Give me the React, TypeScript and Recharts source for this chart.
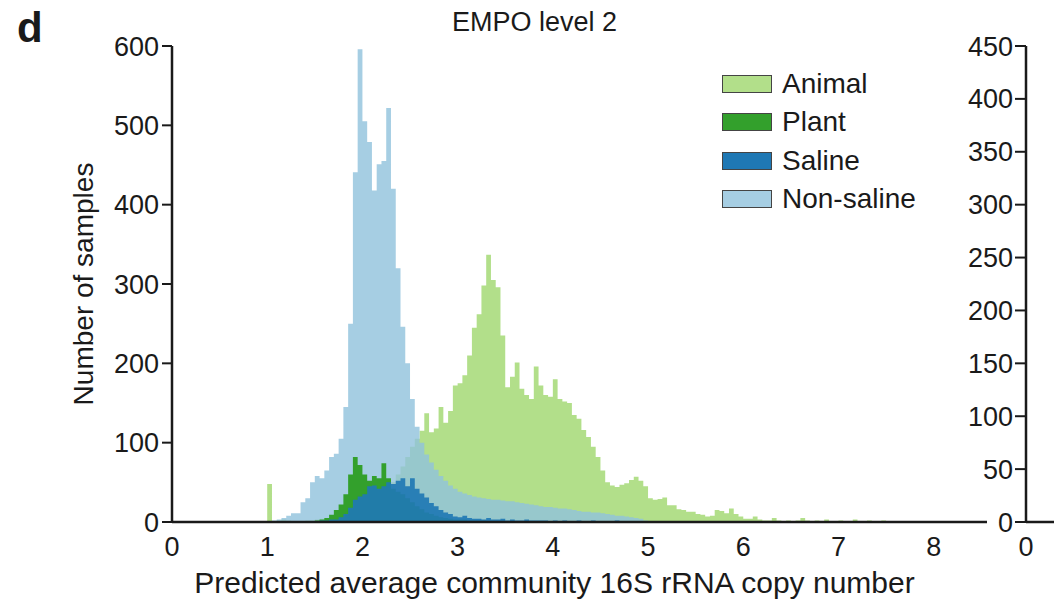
import { ComposedChart, Area, XAxis, YAxis, Legend } from 'recharts'

// histogram bins: 0.05 wide, first bin starts at 1.00
const BIN_START = 1.0
const BIN_WIDTH = 0.05

const animal = [
  48, 0, 2, 3, 2, 0, 1, 1, 2, 2,
  3, 4, 5, 6, 8, 10, 12, 15, 18, 20,
  22, 25, 28, 32, 36, 42, 50, 60, 70, 82,
  95, 105, 115, 137, 113, 118, 145, 125, 140, 172,
  175, 185, 210, 245, 262, 298, 337, 305, 296, 235,
  170, 183, 201, 168, 160, 155, 196, 172, 160, 158,
  180, 155, 152, 150, 135, 130, 116, 107, 95, 82,
  65, 50, 46, 44, 47, 49, 53, 57, 52, 45,
  30, 28, 29, 31, 21, 21, 16, 15, 13, 13,
  10, 9, 7, 8, 15, 14, 11, 17, 10, 7,
  4, 4, 7, 3, 2, 2, 5, 2, 1, 2,
  1, 2, 5, 2, 1, 2, 1, 3, 1, 1,
  2, 1, 1, 3, 1, 1, 2, 1, 0, 2,
  0,
]

const plant = [
  0, 0, 0, 0, 0, 0, 0, 0, 0, 1,
  2, 3, 5, 9, 15, 22, 35, 60, 82, 72,
  60, 52, 58, 55, 74, 55, 42, 38, 35, 30,
  25, 20, 16, 12, 10, 8, 6, 5, 4, 3,
  3, 3, 2, 2, 2, 2, 1, 1, 1, 1,
  1, 1, 0,
]

const saline = [
  0, 0, 0, 0, 0, 0, 0, 0, 1, 1,
  1, 2, 2, 3, 3, 6, 10, 18, 28, 32,
  35, 45, 46, 42, 45, 50, 48, 52, 55, 45,
  55, 42, 36, 31, 24, 20, 15, 12, 10, 7,
  6, 8, 5, 4, 4, 3, 5, 3, 3, 4,
  2, 3, 2, 2, 3, 2, 2, 2, 2, 1,
  2, 1, 2, 1, 1, 2, 1, 1, 2, 1,
  1, 1, 1, 2, 1, 1, 1, 0, 1, 1,
  1, 0, 1, 0, 0, 1, 0,
]

const nonSaline = [
  0, 2, 3, 5, 8, 11, 11, 25, 30, 50,
  58, 55, 65, 82, 86, 105, 145, 250, 441, 596,
  505, 479, 418, 451, 455, 522, 420, 320, 246, 200,
  155, 120, 100, 85, 75, 66, 58, 52, 46, 42,
  38, 36, 34, 32, 31, 30, 29, 28, 28, 27,
  26, 26, 25, 24, 23, 22, 21, 20, 19, 19,
  18, 17, 17, 16, 15, 14, 13, 13, 12, 12,
  11, 10, 9, 8, 8, 7, 6, 5, 4, 2,
  0,
]

const xTicks = [0, 1, 2, 3, 4, 5, 6, 7, 8]
const yTicks = [0, 100, 200, 300, 400, 500, 600]
// next panel (cut off at the right edge of the figure)
const nextXTicks = [0]
const nextYTicks = [0, 50, 100, 150, 200, 250, 300, 350, 400, 450]

// drawing order (back to front)
const series = [
  { key: 'animal', name: 'Animal', values: animal, color: '#b2df8a', swatch: '#b2df8a', opacity: 1 },
  { key: 'nonSaline', name: 'Non-saline', values: nonSaline, color: '#90c2dc', swatch: '#a6cee3', opacity: 0.8 },
  { key: 'plant', name: 'Plant', values: plant, color: '#33a02c', swatch: '#33a02c', opacity: 1 },
  { key: 'saline', name: 'Saline', values: saline, color: '#1f78b4', swatch: '#1f78b4', opacity: 0.92 },
]
const legendOrder = ['animal', 'plant', 'saline', 'nonSaline']

const nBins = Math.max(...series.map((s) => s.values.length)) + 1
const data = Array.from({ length: nBins }, (_, i) => {
  const row: Record<string, number> = { x: +(BIN_START + i * BIN_WIDTH).toFixed(2) }
  series.forEach((s) => {
    row[s.key] = s.values[i] ?? 0
  })
  return row
})

const FONT = '"Liberation Sans", Arial, Helvetica, sans-serif'
const INK = '#1a1a1a'

const renderLegend = () => (
  <div style={{ fontFamily: FONT }}>
    {legendOrder.map((k) => {
      const s = series.find((d) => d.key === k)!
      return (
        <div key={k} style={{ display: 'flex', alignItems: 'center', height: 38.3 }}>
          <div
            style={{
              width: 48,
              height: 16,
              background: s.swatch,
              border: '1.5px solid #444',
              marginRight: 10,
            }}
          />
          <span style={{ fontSize: 28, color: INK, lineHeight: 1 }}>{s.name}</span>
        </div>
      )
    })}
  </div>
)

const App = () => {
  return (
    <div
      style={{
        position: 'fixed',
        left: 0,
        top: 0,
        width: 1054,
        height: 605,
        overflow: 'hidden',
        background: '#fff',
        fontFamily: FONT,
      }}
    >
      <div style={{ position: 'absolute', left: 17, top: 4, fontSize: 42, fontWeight: 'bold', color: INK }}>d</div>
      <div style={{ position: 'absolute', left: 452, top: 7, fontSize: 27, color: INK }}>EMPO level 2</div>

      <div style={{ position: 'absolute', left: 0, top: 0 }}>
        <ComposedChart width={1054} height={605} data={data} margin={{ top: 46, right: 67, bottom: 8, left: 62 }}>
          <XAxis
            dataKey="x"
            type="number"
            domain={[0, 8.56]}
            ticks={xTicks}
            allowDataOverflow
            tickLine={false}
            axisLine={{ stroke: INK, strokeWidth: 2.5 }}
            tick={{ fontSize: 27, fill: INK, fontFamily: FONT }}
            tickMargin={9}
            height={75}
            label={{
              value: 'Predicted average community 16S rRNA copy number',
              position: 'insideBottom',
              offset: 4,
              dx: -25,
              style: { fontSize: 30, fill: INK, fontFamily: FONT },
            }}
          />
          <YAxis
            domain={[0, 600]}
            ticks={yTicks}
            width={110}
            tickSize={10}
            tickMargin={3}
            axisLine={{ stroke: INK, strokeWidth: 2.5 }}
            tickLine={{ stroke: INK, strokeWidth: 2 }}
            tick={{ fontSize: 27, fill: INK, fontFamily: FONT }}
            label={{
              value: 'Number of samples',
              angle: -90,
              position: 'center',
              dx: -34,
              style: { fontSize: 28, fill: INK, fontFamily: FONT, textAnchor: 'middle' },
            }}
          />
          {series.map((s) => (
            <Area
              key={s.key}
              type="stepAfter"
              dataKey={s.key}
              name={s.name}
              stroke="none"
              fill={s.color}
              fillOpacity={s.opacity}
              dot={false}
              activeDot={false}
              isAnimationActive={false}
            />
          ))}
          <Legend
            layout="vertical"
            align="center"
            verticalAlign="middle"
            content={renderLegend}
            wrapperStyle={{ left: 722, top: 65, width: 260, height: 160 }}
          />
        </ComposedChart>
      </div>

      {/* next panel, cut off at the right edge */}
      <div style={{ position: 'absolute', left: 946, top: 0 }}>
        <ComposedChart
          width={300}
          height={605}
          data={[{ x: 0, y: 0 }]}
          margin={{ top: 46, right: 0, bottom: 8, left: 0 }}
        >
          <XAxis
            dataKey="x"
            type="number"
            domain={[0, 2]}
            ticks={nextXTicks}
            tickLine={false}
            axisLine={{ stroke: INK, strokeWidth: 2.5 }}
            tick={{ fontSize: 27, fill: INK, fontFamily: FONT }}
            tickMargin={9}
            height={75}
          />
          <YAxis
            dataKey="y"
            type="number"
            domain={[0, 450]}
            ticks={nextYTicks}
            allowDataOverflow
            width={80}
            tickSize={11}
            tickMargin={2}
            axisLine={{ stroke: INK, strokeWidth: 2.5 }}
            tickLine={{ stroke: INK, strokeWidth: 2 }}
            tick={{ fontSize: 27, fill: INK, fontFamily: FONT }}
          />
          <Area
            type="stepAfter"
            dataKey="y"
            stroke="none"
            fill="none"
            dot={false}
            activeDot={false}
            isAnimationActive={false}
          />
        </ComposedChart>
      </div>
    </div>
  )
}

export default App
